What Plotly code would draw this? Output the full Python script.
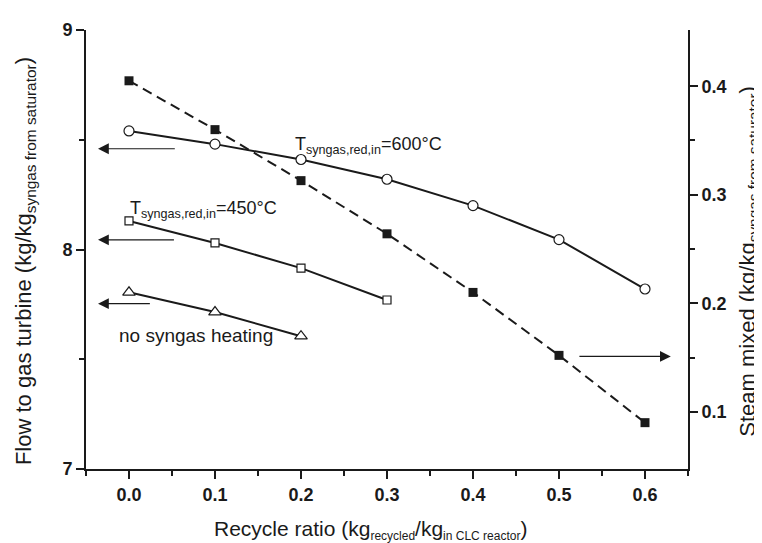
import plotly.graph_objects as go

# ---- data ----
recycle_600 = [0.0, 0.1, 0.2, 0.3, 0.4, 0.5, 0.6]
flow_600 = [8.54, 8.48, 8.41, 8.32, 8.20, 8.045, 7.82]

recycle_450 = [0.0, 0.1, 0.2, 0.3]
flow_450 = [8.13, 8.03, 7.915, 7.77]

recycle_noheat = [0.0, 0.1, 0.2]
flow_noheat = [7.805, 7.715, 7.605]

recycle_steam = [0.0, 0.1, 0.2, 0.3, 0.4, 0.5, 0.6]
steam_mixed = [0.405, 0.360, 0.313, 0.264, 0.210, 0.152, 0.090]

# arrows pointing to the axis each curve belongs to
left_arrow_y = [8.459, 8.044, 7.753]
left_arrow_tail_x = [0.055, 0.054, 0.026]
left_arrow_tip_x = -0.036
right_arrow_y = 0.151
right_arrow_tail_x = 0.522
right_arrow_tip_x = 0.63

x_ticks = [0.0, 0.1, 0.2, 0.3, 0.4, 0.5, 0.6]
y_ticks = [7, 8, 9]
y2_ticks = [0.1, 0.2, 0.3, 0.4]

INK = "#1a1a1a"
FONT = "Liberation Sans, Arial, Helvetica, sans-serif"

fig = go.Figure()

line_style = dict(color=INK, width=2)
fig.add_trace(go.Scatter(
    x=recycle_600, y=flow_600, mode="lines+markers", line=line_style,
    marker=dict(symbol="circle", size=10, color="white", line=dict(color=INK, width=1.2)),
    name="600", showlegend=False))
fig.add_trace(go.Scatter(
    x=recycle_450, y=flow_450, mode="lines+markers", line=line_style,
    marker=dict(symbol="square", size=8, color="white", line=dict(color=INK, width=1.2)),
    name="450", showlegend=False))
fig.add_trace(go.Scatter(
    x=recycle_noheat, y=flow_noheat, mode="lines+markers", line=line_style,
    marker=dict(symbol="triangle-up", size=11, color="white", line=dict(color=INK, width=1.2)),
    name="no heating", showlegend=False))
fig.add_trace(go.Scatter(
    x=recycle_steam, y=steam_mixed, mode="lines+markers", yaxis="y2",
    line=dict(color=INK, width=2, dash="10px,6px"),
    marker=dict(symbol="square", size=9, color=INK, line=dict(color=INK, width=0)),
    name="steam", showlegend=False))

tickfont = dict(family=FONT, size=18, color=INK, weight="bold")
axis_common = dict(showline=True, linecolor=INK, linewidth=2, ticks="outside",
                   tickcolor=INK, tickwidth=2, ticklen=8, showgrid=False,
                   zeroline=False, tickfont=tickfont)

SUB = '<sub><span style="font-size:12px">{}</span></sub>'

ann = []
# axis titles
ann.append(dict(text="Flow to gas turbine (kg/kg<sub>syngas from saturator</sub>)",
                xref="paper", yref="paper", x=-0.101, y=0.474, textangle=-90,
                showarrow=False, font=dict(family=FONT, size=22, color=INK),
                xanchor="center", yanchor="middle"))
ann.append(dict(text="Steam mixed (kg/kg<sub>syngas from saturator</sub>)",
                xref="paper", yref="paper", x=1.101, y=0.474, textangle=-90,
                showarrow=False, font=dict(family=FONT, size=22, color=INK),
                xanchor="center", yanchor="middle"))
ann.append(dict(text="Recycle ratio (kg" + SUB.format("recycled") + "/kg"
                + SUB.format("in CLC reactor") + ")",
                xref="paper", yref="paper", x=0.4726, y=-0.139,
                showarrow=False, font=dict(family=FONT, size=21, color=INK),
                xanchor="center", yanchor="middle"))
# curve labels
ann.append(dict(text="T<sub>syngas,red,in</sub>=600°C", x=0.191, y=8.473,
                xref="x", yref="y", showarrow=False, xanchor="left", yanchor="middle",
                font=dict(family=FONT, size=18, color=INK)))
ann.append(dict(text="T<sub>syngas,red,in</sub>=450°C", x=-0.0012, y=8.181,
                xref="x", yref="y", showarrow=False, xanchor="left", yanchor="middle",
                font=dict(family=FONT, size=18, color=INK)))
ann.append(dict(text="no syngas heating", x=-0.014, y=7.606,
                xref="x", yref="y", showarrow=False, xanchor="left", yanchor="middle",
                font=dict(family=FONT, size=19, color=INK)))
# arrows
for yv, tx in zip(left_arrow_y, left_arrow_tail_x):
    ann.append(dict(text="", x=left_arrow_tip_x, y=yv, ax=tx, ay=yv,
                    xref="x", yref="y", axref="x", ayref="y", showarrow=True,
                    arrowhead=2, arrowsize=1.8, arrowwidth=1.2, arrowcolor=INK,
                    standoff=0, startstandoff=0))
ann.append(dict(text="", x=right_arrow_tip_x, y=right_arrow_y, ax=right_arrow_tail_x,
                ay=right_arrow_y, xref="x", yref="y2", axref="x", ayref="y2",
                showarrow=True, arrowhead=2, arrowsize=1.8, arrowwidth=1.2,
                arrowcolor=INK, standoff=0, startstandoff=0))

fig.update_layout(
    width=762, height=543,
    margin=dict(l=78, r=82, t=16, b=82),
    paper_bgcolor="white", plot_bgcolor="white",
    font=dict(family=FONT, color=INK),
    xaxis=dict(range=[-0.05, 0.65], tickvals=x_ticks, tickformat=".1f",
               minor=dict(tickvals=[-0.05, 0.05, 0.15, 0.25, 0.35, 0.45, 0.55, 0.65],
                          ticks="outside", ticklen=5, tickwidth=1.5, tickcolor=INK),
               **axis_common),
    xaxis2=dict(range=[-0.05, 0.65], overlaying="x", side="top", anchor="y",
                showline=True, linecolor=INK, linewidth=2, ticks="inside",
                tickvals=x_ticks, ticklen=7, tickwidth=1.5, tickcolor=INK,
                showticklabels=False, showgrid=False, zeroline=False,
                minor=dict(tickvals=[0.05, 0.15, 0.25, 0.35, 0.45, 0.55],
                           ticks="inside", ticklen=6, tickwidth=1.5, tickcolor=INK)),
    yaxis=dict(range=[7, 9], tickvals=y_ticks,
               minor=dict(tickvals=[7.5, 8.5], ticks="outside", ticklen=5,
                          tickwidth=1.5, tickcolor=INK),
               **axis_common),
    yaxis2=dict(range=[0.0473, 0.4518], overlaying="y", side="right", anchor="x",
                tickvals=y2_ticks, tickformat=".1f",
                minor=dict(tickvals=[0.15, 0.25, 0.35], ticks="outside", ticklen=5,
                           tickwidth=1.5, tickcolor=INK),
                **axis_common),
    annotations=ann,
)

fig.write_html("out.html")
